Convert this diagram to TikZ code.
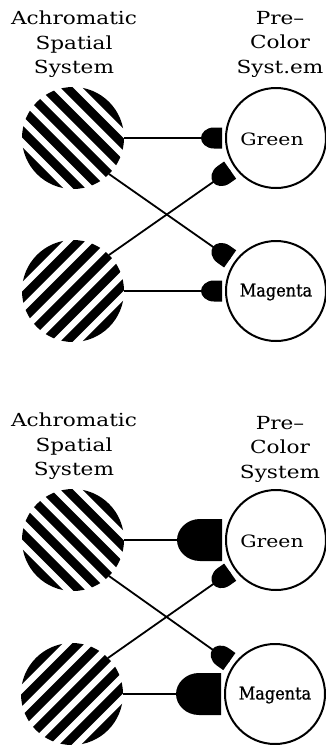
\documentclass[tikz,border=0pt]{standalone}
\usepackage{fontspec}
\setmainfont{DejaVu Serif}
\newfontfamily\magfont[FakeBold=1]{DejaVu Serif}
\usetikzlibrary{calc}

% black bars across a disc of radius 51pt centred on a node;
% #2 = 1 gives bars falling to the right, -1 bars rising to the right
\newcommand\hatchdisc[2]{%
  \begin{scope}
    \clip (#1.center) circle (51pt);
    \foreach \k in {-3,...,3}{%
      \pgfmathsetmacro\oa{\k*15.6-4.4}%
      \pgfmathsetmacro\ob{\k*15.6+4.4}%
      \fill[shift={(#1.center)}]
        ({0.7071*(\oa-60)},{#2*0.7071*(-60-\oa)}) --
        ({0.7071*(\oa+60)},{#2*0.7071*(60-\oa)}) --
        ({0.7071*(\ob+60)},{#2*0.7071*(60-\ob)}) --
        ({0.7071*(\ob-60)},{#2*0.7071*(-60-\ob)}) -- cycle;}
  \end{scope}}

% one line of heading type, widened
\newcommand\hl[1]{{\fontsize{18}{24.5}\selectfont\scalebox{1.2}[1]{#1}}}
% cell label type, widened
\newcommand\cl[1]{{\fontsize{17}{20}\selectfont\scalebox{1.2}[1]{#1}}}

\tikzset{
  field/.style={circle, minimum size=102pt, inner sep=0pt, outer sep=0pt},
  cell/.style={draw, circle, line width=2pt, minimum size=100pt, inner sep=0pt},
  celltext/.style={inner sep=0pt},
  magtext/.style={inner sep=0pt, font=\magfont\fontsize{17.5}{20}\selectfont},
  title/.style={align=center, inner sep=0pt, anchor=north,
    font=\fontsize{18}{24.5}\selectfont},
  conn/.style={line width=1.8pt},
  % synaptic terminals: flat face at the origin, rounded back behind it
  synsmall/.pic={
    \fill (0,-10.5) -- (-8,-10.5) .. controls (-16,-10.5) and (-21,-5) .. (-21,0)
      .. controls (-21,5) and (-16,10.5) .. (-8,10.5) -- (0,10.5) -- cycle;},
  synlarge/.pic={
    \fill (0,-21) -- (-22,-21) .. controls (-35,-21) and (-45,-11) .. (-45,0)
      .. controls (-45,11) and (-35,21) .. (-22,21) -- (0,21) -- cycle;}
}

\begin{document}
\begin{tikzpicture}[x=1pt, y=-1pt]
\fill[white] (0,0) rectangle (326,745);
\useasboundingbox (0,0) rectangle (326,745);

% ---------- upper panel: weak inputs ----------
\node[title] (ta1) at (74,11) {\hl{Achromatic}\\\hl{Spatial}\\\hl{System}};
\node[title] (tb1) at (280,11) {\hl{Pre–}\\\hl{Color}\\\hl{Syst.em}};

\node[field] (s1) at (73,138) {};
\node[field] (s2) at (73,291) {};
\hatchdisc{s1}{1}
\hatchdisc{s2}{-1}
\node[cell] (g1) at (276,138) {};
\node[cell] (m1) at (276,291) {};
\node[celltext] (gl1) at (272,139) {\cl{Green}};
\node[magtext]  (ml1) at (276,292) {\scalebox{0.92}[1]{Magenta}};

\draw[conn] (s1.east) -- ($(g1.center)!54pt!(s1.east)$) pic[pos=1, sloped]{synsmall};
\draw[conn] (s2.east) -- ($(m1.center)!54pt!(s2.east)$) pic[pos=1, sloped]{synsmall};
\draw[conn] (s1.-45) -- ($(m1.center)!56pt!(s1.-45)$) pic[pos=1, sloped]{synsmall};
\draw[conn] (s2.45)  -- ($(g1.center)!56pt!(s2.45)$)  pic[pos=1, sloped]{synsmall};

% ---------- lower panel: strengthened direct inputs ----------
\node[title] (ta2) at (74,413) {\hl{Achromatic}\\\hl{Spatial}\\\hl{System}};
\node[title] (tb2) at (280,416) {\hl{Pre–}\\\hl{Color}\\\hl{System}};

\node[field] (s3) at (73,540) {};
\node[field] (s4) at (72,694) {};
\hatchdisc{s3}{1}
\hatchdisc{s4}{-1}
\node[cell] (g2) at (276,540) {};
\node[cell] (m2) at (275,694) {};
\node[celltext] (gl2) at (272,541) {\cl{Green}};
\node[magtext]  (ml2) at (275,695) {\scalebox{0.92}[1]{Magenta}};

\draw[conn] (s3.east) -- ($(g2.center)!54pt!(s3.east)$) pic[pos=1, sloped]{synlarge};
\draw[conn] (s4.east) -- ($(m2.center)!54pt!(s4.east)$) pic[pos=1, sloped]{synlarge};
\draw[conn] (s3.-45) -- ($(m2.center)!56pt!(s3.-45)$) pic[pos=1, sloped]{synsmall};
\draw[conn] (s4.45)  -- ($(g2.center)!56pt!(s4.45)$)  pic[pos=1, sloped]{synsmall};
\end{tikzpicture}
\end{document}
